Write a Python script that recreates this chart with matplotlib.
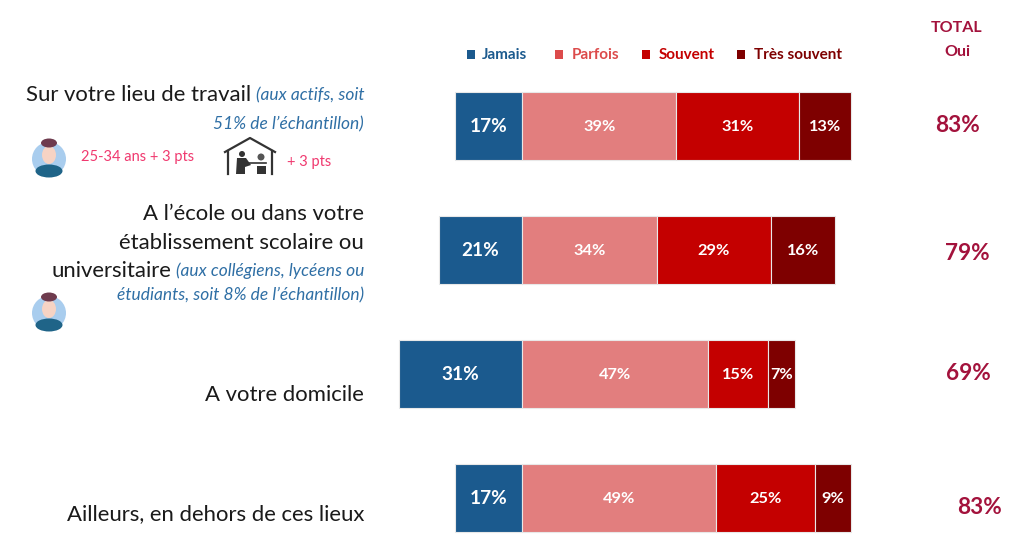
import matplotlib
matplotlib.use("Agg")
import matplotlib.pyplot as plt
from matplotlib.patches import Circle, Ellipse, Rectangle, Polygon

plt.rcParams["font.family"] = ["Lato", "DejaVu Sans"]

# ── data ─────────────────────────────────────────────────────────────
series = ["Jamais", "Parfois", "Souvent", "Très souvent"]
colours = ["#1B5A8E", "#E27E7E", "#C40000", "#7E0000"]
legend_colours = ["#1B5A8E", "#DC4B4B", "#C40000", "#7E0000"]

jamais = [17, 21, 31, 17]
parfois = [39, 34, 47, 49]
souvent = [31, 29, 15, 25]
tres_souvent = [13, 16, 7, 9]
total_oui = ["83%", "79%", "69%", "83%"]

BLUE = "#2F6FA5"
PINK = "#F0396F"
TOTAL = "#A3123C"

fig = plt.figure(figsize=(10.24, 5.46), dpi=100, facecolor="white")

# bars: the axes fills the figure, the zero line sits at x=522 px
px_per_pct = 3.96
ax = fig.add_axes([0, 0, 1, 1])
ax.set_xlim(-522 / px_per_pct, (1024 - 522) / px_per_pct)
ax.set_ylim((546 - 125.7) / 124, -125.7 / 124)
ax.axis("off")

ypos = range(len(jamais))
ax.barh(ypos, [-v for v in jamais], height=0.55, color=colours[0],
        edgecolor="#E8E8E8", linewidth=0.8)
left = [0] * len(jamais)
for vals, col in zip([parfois, souvent, tres_souvent], colours[1:]):
    ax.barh(ypos, vals, left=left, height=0.55, color=col,
            edgecolor="#E8E8E8", linewidth=0.8)
    for i, v in enumerate(vals):
        ax.text(left[i] + v / 2, i + 0.01, f"{v}%", color="white", fontsize=11.8,
                fontweight="bold", ha="center", va="center")
    left = [a + b for a, b in zip(left, vals)]
for i, v in enumerate(jamais):
    ax.text(-v / 2, i + 0.01, f"{v}%", color="white", fontsize=13.7,
            fontweight="bold", ha="center", va="center")

# overlay in image pixels for the text block and the pictograms
ov = fig.add_axes([0, 0, 1, 1], facecolor="none")
ov.set_xlim(0, 1024)
ov.set_ylim(546, 0)
ov.axis("off")


def label_line(y, black="", note="", right=364):
    """Right aligned line: black roman text followed by a blue italic note."""
    x = right
    renderer = fig.canvas.get_renderer()
    if note:
        t = ov.text(x, y, note, color=BLUE, fontsize=12.5, style="italic",
                    ha="right", va="center")
        x -= t.get_window_extent(renderer).width + 4
    if black:
        ov.text(x, y, black, color="#1A1A1A", fontsize=15.9, ha="right", va="center")


def avatar(x, y):
    ov.add_patch(Circle((x, y + 1), 17, color="#A9CDEE", lw=0))
    ov.add_patch(Ellipse((x, y + 13), 27, 13, color="#1F6488", lw=0))
    ov.add_patch(Ellipse((x, y - 3), 14, 18, color="#F6D3C4", lw=0))
    ov.add_patch(Ellipse((x, y - 15), 16, 9, color="#6E3B4E", lw=0))


def home_office(x, y):
    # roof, walls, then a rough figure at a desk
    ov.plot([x - 25, x, x + 25], [y - 8, y - 22, y - 8], color="#333333", lw=1.6)
    ov.plot([x - 22, x - 22], [y - 9, y + 14], color="#333333", lw=1.6)
    ov.plot([x + 22, x + 22], [y - 9, y + 14], color="#333333", lw=1.6)
    ov.add_patch(Circle((x - 8, y - 6), 3, color="#333333", lw=0))
    ov.add_patch(Polygon([(x - 13, y - 2), (x - 4, y - 2), (x + 1, y + 5),
                          (x - 5, y + 7), (x - 5, y + 14), (x - 14, y + 14)],
                         color="#333333", lw=0))
    ov.plot([x - 6, x + 16], [y + 3, y + 3], color="#333333", lw=1.2)
    ov.add_patch(Rectangle((x + 7, y + 6), 9, 8, color="#333333", lw=0))
    ov.add_patch(Circle((x + 11, y - 3), 3.5, color="#555555", lw=0))


# row labels
label_line(95, "Sur votre lieu de travail", "(aux actifs, soit")
label_line(124, note="51% de l’échantillon)")
label_line(214, "A l’école ou dans votre")
label_line(243, "établissement scolaire ou")
label_line(271, "universitaire", "(aux collégiens, lycéens ou")
label_line(295, note="étudiants, soit 8% de l’échantillon)")
label_line(395, "A votre domicile")
label_line(514, "Ailleurs, en dehors de ces lieux")

# sub-group callouts
avatar(49, 158)
avatar(49, 312)
home_office(250, 160)
ov.text(81, 157, "25-34 ans + 3 pts", color=PINK, fontsize=10.5, va="center")
ov.text(287, 162, "+ 3 pts", color=PINK, fontsize=10.5, va="center")

# legend
for name, col, xs, xt in zip(series, legend_colours, [467, 555, 642, 737],
                             [482, 572, 659, 754]):
    ov.add_patch(Rectangle((xs, 50), 8, 9, color=col, lw=0))
    ov.text(xt, 55, name, color=col, fontsize=11, fontweight="bold", va="center")

# total column
ov.text(957, 28, "TOTAL", color=TOTAL, fontsize=11.5, fontweight="bold", ha="center", va="center")
ov.text(957, 52, "Oui", color=TOTAL, fontsize=11.5, fontweight="bold", ha="center", va="center")
for val, xc, yc in zip(total_oui, [957, 967, 968, 980], [125, 254, 374, 507]):
    ov.text(xc, yc, val, color=TOTAL, fontsize=16.3, fontweight="bold", ha="center", va="center")

fig.savefig("out.png", dpi=100)
